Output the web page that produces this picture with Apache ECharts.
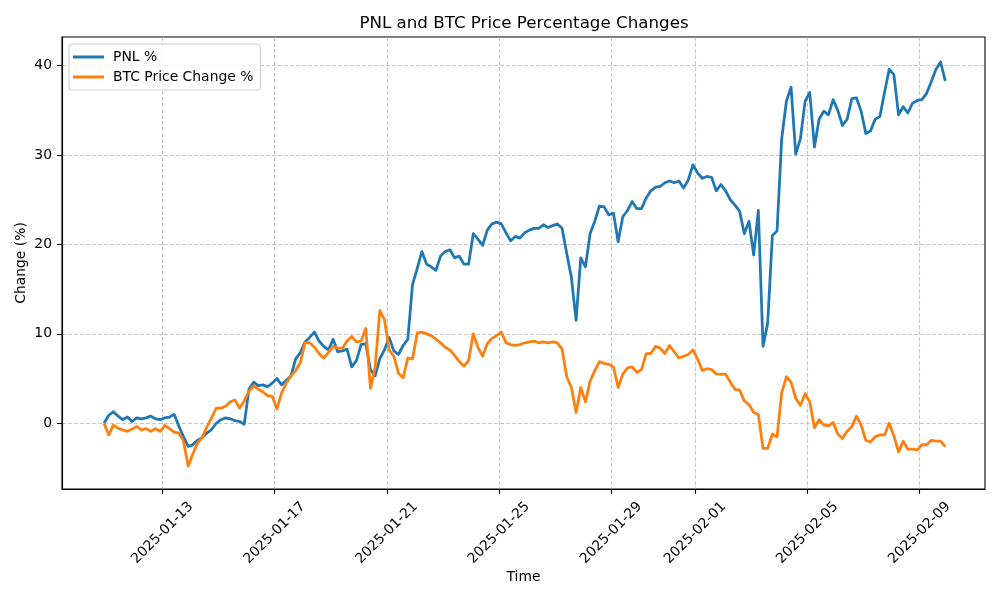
<!DOCTYPE html>
<html>
<head>
<meta charset="utf-8">
<title>PNL and BTC Price Percentage Changes</title>
<script src="https://cdn.jsdelivr.net/npm/echarts@6/dist/echarts.min.js"></script>
<style>
  html, body { margin: 0; padding: 0; background: #fff; }
  #chart { width: 1000px; height: 600px; }
</style>
</head>
<body>
<div id="chart"></div>
<script>
// samples every 4 hours, first one at 2025-01-10 22:00 UTC
var startTime = Date.parse('2025-01-10T22:00:00Z');
var stepHours = 4;

// PNL %
var pnl = [
  0.0, 0.9, 1.3, 0.8, 0.4, 0.7, 0.2, 0.6, 0.5, 0.6,
  0.8, 0.5, 0.4, 0.6, 0.7, 1.0, -0.3, -1.5, -2.6, -2.4,
  -1.9, -1.6, -1.1, -0.7, 0.0, 0.4, 0.6, 0.5, 0.3, 0.2,
  -0.1, 3.8, 4.6, 4.2, 4.3, 4.1, 4.5, 5.0, 4.3, 4.8,
  5.3, 7.2, 7.9, 9.1, 9.6, 10.2, 9.2, 8.6, 8.2, 9.4,
  8.0, 8.1, 8.3, 6.3, 7.0, 8.8, 8.9, 6.0, 5.3, 7.2,
  8.2, 9.6, 8.1, 7.7, 8.7, 9.4, 15.5, 17.3, 19.2, 17.8,
  17.5, 17.1, 18.7, 19.2, 19.4, 18.5, 18.7, 17.8, 17.8, 21.2,
  20.6, 19.9, 21.6, 22.3, 22.5, 22.3, 21.3, 20.4, 20.9, 20.7,
  21.3, 21.6, 21.8, 21.8, 22.2, 21.9, 22.1, 22.3, 21.8, 19.0,
  16.3, 11.5, 18.5, 17.5, 21.2, 22.6, 24.3, 24.2, 23.3, 23.5,
  20.3, 23.1, 23.8, 24.8, 24.0, 24.0, 25.2, 26.0, 26.4, 26.5,
  26.9, 27.1, 26.9, 27.1, 26.3, 27.2, 28.9, 28.0, 27.4, 27.6,
  27.5, 26.0, 26.7, 26.0, 25.0, 24.4, 23.7, 21.2, 22.6, 18.8,
  23.8, 8.6, 11.2, 21.0, 21.5, 31.8, 36.0, 37.6, 30.1, 31.8,
  36.0, 37.0, 30.9, 34.0, 34.9, 34.5, 36.2, 35.0, 33.3, 34.0,
  36.3, 36.4, 34.9, 32.4, 32.7, 34.0, 34.3, 37.0, 39.6, 39.0,
  34.5, 35.4, 34.7, 35.8, 36.1, 36.2, 36.9, 38.2, 39.6, 40.4,
  38.3
];

// BTC Price Change %
var btc = [
  0.0, -1.3, -0.2, -0.55, -0.75, -0.9, -0.65, -0.35, -0.75, -0.6,
  -0.9, -0.6, -0.9, -0.25, -0.6, -1.0, -1.1, -2.0, -4.8, -3.4,
  -2.2, -1.6, -0.4, 0.6, 1.7, 1.7, 1.9, 2.4, 2.6, 1.7,
  2.5, 3.6, 4.2, 3.8, 3.5, 3.1, 3.0, 1.6, 3.4, 4.5,
  5.3, 5.9, 6.8, 9.0, 9.0, 8.5, 7.8, 7.3, 7.9, 8.6,
  8.4, 8.4, 9.2, 9.7, 9.1, 9.2, 10.6, 3.9, 6.2, 12.6,
  11.6, 8.2, 7.5, 5.6, 5.1, 7.3, 7.2, 10.1, 10.2, 10.0,
  9.8, 9.4, 9.0, 8.5, 8.2, 7.6, 6.9, 6.4, 7.0, 10.0,
  8.5, 7.5, 8.9, 9.5, 9.8, 10.2, 9.0, 8.8, 8.7, 8.8,
  9.0, 9.1, 9.2, 9.0, 9.1, 9.0, 9.1, 9.0, 8.3, 5.2,
  4.0, 1.2, 4.0, 2.4, 4.7, 5.9, 6.9, 6.7, 6.6, 6.3,
  4.0, 5.5, 6.2, 6.3, 5.7, 6.0, 7.8, 7.8, 8.6, 8.4,
  7.8, 8.7, 8.0, 7.3, 7.5, 7.7, 8.2, 7.2, 5.9, 6.1,
  6.0, 5.5, 5.5, 5.5, 4.6, 3.8, 3.7, 2.5, 2.1, 1.2,
  1.0, -2.8, -2.8, -1.2, -1.5, 3.4, 5.2, 4.6, 2.8, 2.0,
  3.3, 2.4, -0.5, 0.4, -0.2, -0.3, 0.1, -1.2, -1.7, -0.9,
  -0.4, 0.8, -0.2, -1.9, -2.1, -1.5, -1.3, -1.3, 0.0, -1.4,
  -3.2, -2.0, -2.9, -2.9, -3.0, -2.4, -2.4, -1.9, -2.0, -2.0,
  -2.6
];

// tick labels
var dateTicks = ['2025-01-13', '2025-01-17', '2025-01-21', '2025-01-25',
                 '2025-01-29', '2025-02-01', '2025-02-05', '2025-02-09'];
var valueTicks = [0, 10, 20, 30, 40];

var FONT = 'DejaVu Sans';
var gridLine = { color: 'rgba(176,176,176,0.7)', width: 1.1, type: [4, 2] };

function toSeries(values) {
  var out = [];
  for (var i = 0; i < values.length; i++) {
    out.push([startTime + i * stepHours * 3600 * 1000, values[i]]);
  }
  return out;
}

function Draw_pnl_chart() {
  var tickTimes = [];
  for (var i = 0; i < dateTicks.length; i++) {
    tickTimes.push(Date.parse(dateTicks[i] + 'T00:00:00Z'));
  }

  var mychart = echarts.init(document.getElementById('chart'), null, { renderer: 'canvas' });
  var option = {
    animation: false,
    backgroundColor: '#fff',
    textStyle: { fontFamily: FONT },
    title: {
      text: 'PNL and BTC Price Percentage Changes',
      left: 519,
      top: 10,
      textAlign: 'center',
      textStyle: { fontFamily: FONT, fontSize: 16.7, fontWeight: 'normal', color: '#000' }
    },
    legend: {
      orient: 'vertical',
      left: 69,
      top: 44,
      padding: [6, 7, 6, 4],
      itemGap: 6,
      itemWidth: 31,
      itemHeight: 3,
      icon: 'rect',
      borderColor: '#cccccc',
      borderWidth: 1,
      borderRadius: 3,
      backgroundColor: 'rgba(255,255,255,0.8)',
      textStyle: { fontFamily: FONT, fontSize: 13.9, color: '#000', lineHeight: 14, padding: [0, 0, 0, 4] },
      data: ['PNL %', 'BTC Price Change %']
    },
    grid: {
      left: 62, right: 15, top: 37, bottom: 111,
      show: true, borderColor: '#000', borderWidth: 1.1,
      containLabel: false
    },
    // time kept as epoch ms on a value axis, labels printed as dates
    xAxis: {
      type: 'value',
      min: Date.parse('2025-01-09T10:00:00Z'),
      max: Date.parse('2025-02-11T08:00:00Z'),
      name: 'Time',
      nameLocation: 'middle',
      nameGap: 81,
      nameMoveOverlap: false,
      nameTextStyle: { fontFamily: FONT, fontSize: 13.9, color: '#000' },
      axisLine: { show: true, onZero: false, lineStyle: { color: '#000', width: 1.1 } },
      axisTick: { show: true, length: 4.9, customValues: tickTimes, lineStyle: { color: '#000', width: 1.1 } },
      axisLabel: {
        customValues: tickTimes,
        rotate: 45,
        align: 'center',
        verticalAlign: 'middle',
        margin: 44,
        fontFamily: FONT, fontSize: 13.9, color: '#000',
        formatter: function (value) {
          return new Date(value).toISOString().slice(0, 10);
        }
      },
      splitLine: { show: true, lineStyle: gridLine }
    },
    yAxis: {
      type: 'value',
      min: -7.35,
      max: 43.2,
      name: 'Change (%)',
      nameLocation: 'middle',
      nameGap: 34,
      nameMoveOverlap: false,
      nameTextStyle: { fontFamily: FONT, fontSize: 13.9, color: '#000' },
      axisLine: { show: true, lineStyle: { color: '#000', width: 1.1 } },
      axisTick: { show: true, length: 4.9, customValues: valueTicks, lineStyle: { color: '#000', width: 1.1 } },
      axisLabel: { customValues: valueTicks, margin: 10, fontFamily: FONT, fontSize: 13.9, color: '#000' },
      splitLine: { show: true, lineStyle: gridLine }
    },
    series: [
      {
        name: 'PNL %',
        type: 'line',
        data: toSeries(pnl),
        showSymbol: false,
        symbol: 'none',
        color: '#1f77b4',
        lineStyle: { color: '#1f77b4', width: 2.78, join: 'round' }
      },
      {
        name: 'BTC Price Change %',
        type: 'line',
        data: toSeries(btc),
        showSymbol: false,
        symbol: 'none',
        color: '#ff7f0e',
        lineStyle: { color: '#ff7f0e', width: 2.78, join: 'round' }
      }
    ]
  };
  mychart.setOption(option);
}

Draw_pnl_chart();
</script>
</body>
</html>
